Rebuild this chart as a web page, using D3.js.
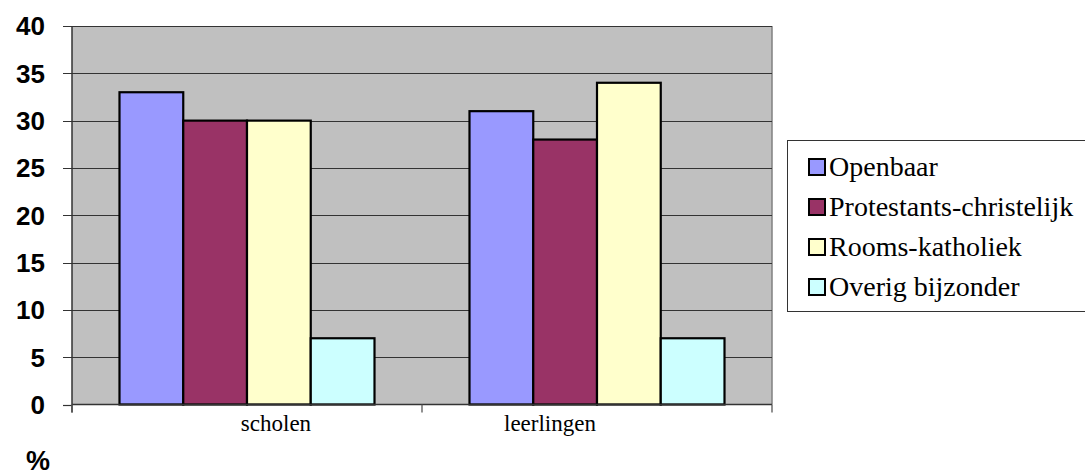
<!DOCTYPE html>
<html><head><meta charset="utf-8">
<script src="https://cdn.jsdelivr.net/npm/d3@7"></script>
<style>body{margin:0;background:#fff}svg{display:block}</style>
</head><body>
<svg id="c" width="1085" height="475"></svg>
<script>
const categories = ["scholen", "leerlingen"];
const seriesNames = ["Openbaar", "Protestants-christelijk", "Rooms-katholiek", "Overig bijzonder"];
const seriesColors = ["#9999FF", "#993366", "#FFFFCC", "#CCFFFF"];
const openbaar = [33, 31];
const protestants = [30, 28];
const rooms = [30, 34];
const overig = [7, 7];
const yTicks = [0, 5, 10, 15, 20, 25, 30, 35, 40];
const seriesValues = [openbaar, protestants, rooms, overig];

const SERIF = "Liberation Serif";
const SANS = "Liberation Sans";
const svg = d3.select("#c");
const L = 72, R = 772, T = 26, B = 404.5;
const x = d3.scaleBand().domain(categories).range([L, R]).paddingInner(0).paddingOuter(0);
const xs = d3.scaleBand().domain(seriesNames).range([0, x.bandwidth()]).paddingInner(0).paddingOuter(0.745);
const y = d3.scaleLinear().domain([0, 40]).range([B, T]);

svg.append("rect").attr("x", L).attr("y", T).attr("width", R - L).attr("height", B - T).attr("fill", "#C0C0C0");
svg.append("line").attr("x1", R).attr("x2", R).attr("y1", T).attr("y2", B).attr("stroke", "#808080").attr("stroke-width", 1.5);

svg.append("g").selectAll("line").data(yTicks).join("line")
  .attr("x1", L - 9).attr("x2", d => d === 0 ? L : R)
  .attr("y1", d => Math.round(y(d)) + 0.5).attr("y2", d => Math.round(y(d)) + 0.5)
  .attr("stroke", "#333").attr("stroke-width", 1.2);

svg.append("g").selectAll("text").data(yTicks).join("text")
  .attr("font-family", SANS).attr("font-weight", "bold").attr("font-size", 26)
  .attr("x", 45).attr("y", d => y(d)).attr("dy", "0.36em")
  .attr("text-anchor", "end")
  .text(d => d);

const g = svg.append("g");
categories.forEach((c, ci) => {
  seriesNames.forEach((s, si) => {
    const v = seriesValues[si][ci];
    g.append("rect")
      .attr("x", x(c) + xs(s)).attr("width", xs.bandwidth())
      .attr("y", y(v)).attr("height", y(0) - y(v))
      .attr("fill", seriesColors[si]).attr("stroke", "#000").attr("stroke-width", 2.2);
  });
});

svg.append("line").attr("x1", L).attr("x2", L).attr("y1", T).attr("y2", B + 8).attr("stroke", "#333").attr("stroke-width", 1.5);
svg.append("line").attr("x1", L).attr("x2", R).attr("y1", B).attr("y2", B).attr("stroke", "#333").attr("stroke-width", 1.5);
const xTickPos = [L, ...categories.map(c => x(c) + x.bandwidth())];
svg.append("g").selectAll("line").data(xTickPos).join("line")
  .attr("x1", d => d).attr("x2", d => d).attr("y1", B).attr("y2", B + 8)
  .attr("stroke", "#555").attr("stroke-width", 1.3);

const labelOffsets = [29, -47];
svg.append("g").selectAll("text").data(categories).join("text")
  .attr("font-family", SERIF).attr("font-size", 23)
  .attr("x", (d, i) => x(d) + x.bandwidth() / 2 + labelOffsets[i]).attr("y", 431)
  .attr("text-anchor", "middle")
  .text(d => d);

svg.append("text").attr("font-family", SANS).attr("font-weight", "bold").attr("font-size", 27)
  .attr("x", 26).attr("y", 470).text("%");

const lg = svg.append("g");
lg.append("rect").attr("x", 787.5).attr("y", 140.5).attr("width", 305).attr("height", 171).attr("fill", "#fff").attr("stroke", "#333").attr("stroke-width", 1);
seriesNames.forEach((s, i) => {
  const cy = 167 + i * 40;
  lg.append("rect").attr("x", 809).attr("y", cy - 8).attr("width", 16).attr("height", 16)
    .attr("fill", seriesColors[i]).attr("stroke", "#000").attr("stroke-width", 2);
  lg.append("text").attr("font-family", SERIF).attr("font-size", 28)
    .attr("x", 829).attr("y", cy + 9)
    .text(s);
});
</script>
</body></html>
